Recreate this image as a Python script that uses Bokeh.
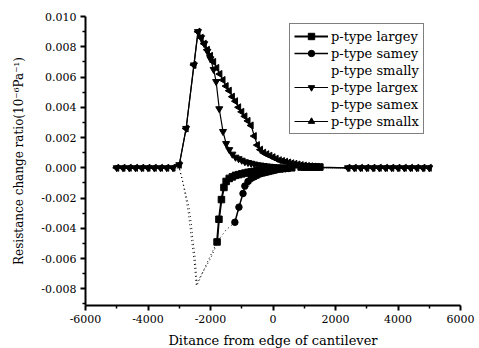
import math
from bokeh.plotting import figure
from bokeh.models import FixedTicker, Legend, LegendItem, Range1d
from bokeh.embed import file_html
from bokeh.resources import INLINE

# ---------------- data ----------------
x_ticks = [-6000, -4000, -2000, 0, 2000, 4000, 6000]
x_tick_labels = ["-6000", "-4000", "-2000", "0", "2000", "4000", "6000"]
x_minor = [-5000, -3000, -1000, 1000, 3000, 5000]
y_ticks = [-0.008, -0.006, -0.004, -0.002, 0.0, 0.002, 0.004, 0.006, 0.008, 0.010]
y_tick_labels = ["-0.008", "-0.006", "-0.004", "-0.002", "0.000", "0.002", "0.004", "0.006", "0.008", "0.010"]
y_minor = [-0.009, -0.007, -0.005, -0.003, -0.001, 0.001, 0.003, 0.005, 0.007, 0.009]

smallx_x = [-5000, -4800, -4600, -4400, -4200, -4000, -3800, -3600, -3400, -3200, -3000,
            -2780, -2530, -2400,
            -2300, -2200, -2100, -2000, -1900, -1800, -1700, -1600, -1500, -1400,
            -1300, -1200, -1100, -1000, -900, -800, -700, -600, -500, -400,
            -300, -200, -100, 0, 100, 200, 300, 400, 500, 600,
            700, 800, 900, 1000, 1100, 1200, 1300, 1400, 1500,
            2400, 2600, 2800, 3000, 3200, 3400, 3600, 3800, 4000, 4200, 4400, 4600, 4800, 5000]
smallx_y = [0.0, 0.0, 0.0, 0.0, 0.0, 0.0, 0.0, 0.0, 0.0, 0.0, 0.0002,
            0.0026, 0.0068, 0.0090,
            0.0086, 0.0082, 0.0078, 0.0074, 0.0070, 0.0066, 0.0062, 0.0058, 0.0054, 0.0051,
            0.0047, 0.0044, 0.0040, 0.0037, 0.0034, 0.0031, 0.0028, 0.0021, 0.0015, 0.0012,
            0.0010, 0.0009, 0.0008, 0.0007, 0.0006, 0.0005, 0.00045, 0.0004, 0.00035, 0.0003,
            0.00026, 0.00022, 0.00018, 0.00015, 0.00012, 0.0001, 0.00008, 0.00006, 0.00004,
            0.0, 0.0, 0.0, 0.0, 0.0, 0.0, 0.0, 0.0, 0.0, 0.0, 0.0, 0.0, 0.0, 0.0]

largex_x = [-5000, -4800, -4600, -4400, -4200, -4000, -3800, -3600, -3400, -3200, -3000,
            -2780, -2530, -2400,
            -2300, -2200, -2100, -2000, -1900, -1820, -1720, -1600, -1500, -1400,
            -1300, -1200, -1100, -1000, -900, -800, -700, -600, -500, -400,
            -300, -200, -100, 0, 100, 200, 300, 400, 500,
            2400, 2600, 2800, 3000, 3200, 3400, 3600, 3800, 4000, 4200, 4400, 4600, 4800, 5000]
largex_y = [0.0, 0.0, 0.0, 0.0, 0.0, 0.0, 0.0, 0.0, 0.0, 0.0, 0.0002,
            0.0026, 0.0068, 0.0090,
            0.0086, 0.0082, 0.0077, 0.0072, 0.0065, 0.0057, 0.0039, 0.0024, 0.0016, 0.0012,
            0.0009, 0.0007, 0.0006, 0.0005, 0.0004, 0.00035, 0.0003, 0.00025, 0.0002, 0.00018,
            0.00015, 0.00012, 0.0001, 0.00008, 0.00006, 0.00005, 0.00004, 0.00003, 0.00002,
            0.0, 0.0, 0.0, 0.0, 0.0, 0.0, 0.0, 0.0, 0.0, 0.0, 0.0, 0.0, 0.0, 0.0]

largey_x = [-1790, -1730, -1650, -1570, -1500, -1400, -1300, -1200, -1100, -1000,
            -900, -800, -700, -600, -500, -400, -300, -200, -100, 0,
            100, 200, 300, 600, 900, 1000, 1100, 1200, 1300, 1400, 1500]
largey_y = [-0.0049, -0.0034, -0.0021, -0.0013, -0.0009, -0.0007, -0.0006, -0.0005, -0.00045, -0.0004,
            -0.00035, -0.0003, -0.00027, -0.00024, -0.0002, -0.00018, -0.00015, -0.00012, -0.0001, -0.00008,
            -0.00006, -0.00005, -0.00004, 0.0, 0.00005, 0.00005, 0.00005, 0.00005, 0.00005, 0.00005, 0.00005]

samey_x = [-1220, -1090, -960, -900, -800, -700, -600, -500, -400, -300,
           -200, -100, 0, 100, 200, 300, 400, 500]
samey_y = [-0.0036, -0.0026, -0.0017, -0.0012, -0.0009, -0.0007, -0.0006, -0.0005, -0.0004, -0.00035,
           -0.0003, -0.00025, -0.0002, -0.00015, -0.0001, -0.00008, -0.00006, -0.00004]

smally_x = [-5000, -3000, -2880, -2780, -2690, -2620, -2560, -2500, -2460, -2440,
            -2140, -1790, -1500, -1220, -960, -500, 0, 500, 5000]
smally_y = [0.0, 0.0, -0.0010, -0.0018, -0.0026, -0.0036, -0.0048, -0.0058, -0.0068, -0.0078,
            -0.0064, -0.0049, -0.0041, -0.0036, -0.0017, -0.0005, -0.0002, 0.0, 0.0]

samex_x = [-5000, -3000, -2900, -2800, -2720, -2650, -2580, -2520, -2480, -2460,
           -2300, -2000, -1790, -1730, -1650, -1570, -1000, 0, 5000]
samex_y = [0.0, 0.0, -0.0008, -0.0019, -0.0028, -0.0040, -0.0052, -0.0062, -0.0072, -0.0077,
           -0.0071, -0.0060, -0.0050, -0.0034, -0.0021, -0.0013, -0.0004, 0.0, 0.0]

legend_labels = ["p-type largey", "p-type samey", "p-type smally",
                 "p-type largex", "p-type samex", "p-type smallx"]

FONT = "DejaVu Serif"

p = figure(frame_width=375, frame_height=289, output_backend="svg", toolbar_location=None,
           min_border_left=85, min_border_right=16, min_border_top=16, min_border_bottom=42,
           x_range=Range1d(-6000, 6000), y_range=Range1d(-0.0091, 0.010))
p.outline_line_color = None
p.xgrid.visible = False
p.ygrid.visible = False
p.background_fill_color = "white"
p.border_fill_color = "white"

p.xaxis.ticker = FixedTicker(ticks=x_ticks, minor_ticks=x_minor)
p.xaxis.major_label_overrides = {t: l for t, l in zip(x_ticks, x_tick_labels)}
p.yaxis.ticker = FixedTicker(ticks=y_ticks, minor_ticks=y_minor)
p.yaxis.major_label_overrides = {t: l for t, l in zip(y_ticks, y_tick_labels)}

for ax in (p.xaxis[0], p.yaxis[0]):
    ax.axis_line_width = 2
    ax.axis_line_color = "black"
    ax.major_tick_line_width = 2
    ax.major_tick_line_color = "black"
    ax.minor_tick_line_width = 1.5
    ax.minor_tick_line_color = "black"
    ax.major_tick_in = 0
    ax.major_tick_out = 5
    ax.minor_tick_in = 0
    ax.minor_tick_out = 3
    ax.major_label_text_font = FONT
    ax.major_label_text_font_size = "11px"
    ax.major_label_text_color = "black"
    ax.axis_label_text_font = FONT
    ax.axis_label_text_font_style = "normal"
    ax.axis_label_text_color = "black"

p.xaxis.axis_label = "Ditance from edge of cantilever"
p.xaxis.axis_label_text_font_size = "13px"
p.xaxis.major_label_standoff = 4
p.xaxis.axis_label_standoff = 7
p.yaxis.axis_label = "Resistance change ratio(10\u207b\u2076Pa\u207b\u00b9)"
p.yaxis.axis_label_text_font_size = "12px"
p.yaxis.major_label_standoff = 4
p.yaxis.axis_label_standoff = 12

# dotted series (no markers)
r_smally = p.line(smally_x, smally_y, line_color="black", line_width=1, line_dash="1 3")
r_samex = p.line(samex_x, samex_y, line_color="black", line_width=1, line_dash="1 3")

# marker series
l_largey = p.line(largey_x, largey_y, line_color="black", line_width=2)
s_largey = p.scatter(largey_x, largey_y, marker="square", size=6.5, color="black")
l_samey = p.line(samey_x, samey_y, line_color="black", line_width=1.5)
s_samey = p.scatter(samey_x, samey_y, marker="circle", size=6.5, color="black")
l_largex = p.line(largex_x, largex_y, line_color="black", line_width=1.2)
s_largex = p.scatter(largex_x, largex_y, marker="inverted_triangle", size=7, color="black")
l_smallx = p.line(smallx_x, smallx_y, line_color="black", line_width=1.2)
s_smallx = p.scatter(smallx_x, smallx_y, marker="triangle", angle=math.pi / 2, size=7, color="black")

# blank legend glyphs for the dotted series (reference shows none)
blank1 = p.line([], [], line_alpha=0)
blank2 = p.line([], [], line_alpha=0)

legend = Legend(items=[
    LegendItem(label=legend_labels[0], renderers=[l_largey, s_largey]),
    LegendItem(label=legend_labels[1], renderers=[l_samey, s_samey]),
    LegendItem(label=legend_labels[2], renderers=[blank1]),
    LegendItem(label=legend_labels[3], renderers=[l_largex, s_largex]),
    LegendItem(label=legend_labels[4], renderers=[blank2]),
    LegendItem(label=legend_labels[5], renderers=[l_smallx, s_smallx]),
], location=(204, 171))
legend.label_text_font = FONT
legend.label_text_font_size = "13px"
legend.label_text_color = "black"
legend.label_height = 16
legend.glyph_height = 16
legend.glyph_width = 34
legend.label_standoff = 3
legend.spacing = 1
legend.padding = 4
legend.margin = 0
legend.border_line_color = "black"
legend.border_line_width = 1.5
legend.background_fill_color = "white"
legend.background_fill_alpha = 1
p.add_layout(legend)

open("out.html", "w").write(file_html(p, INLINE))
